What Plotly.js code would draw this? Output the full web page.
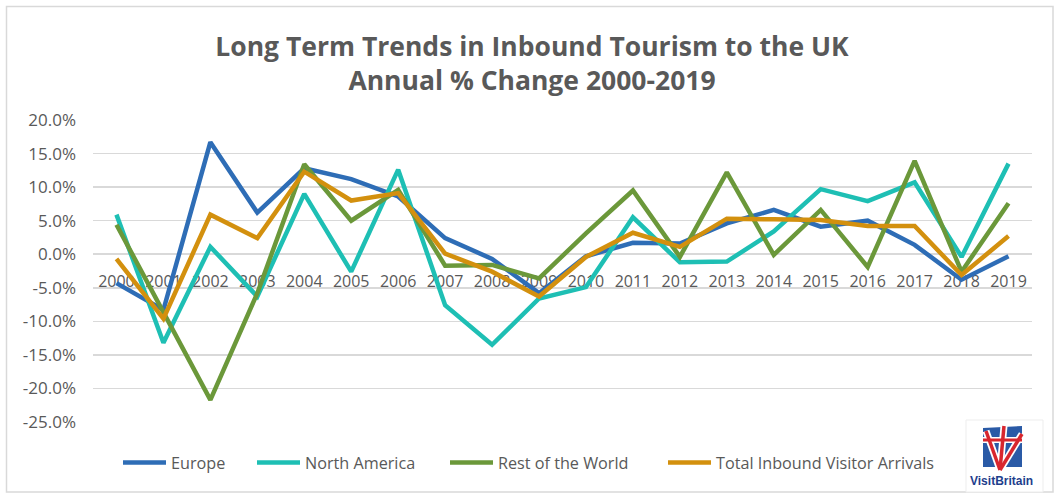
<!DOCTYPE html>
<html>
<head>
<meta charset="utf-8">
<script src="https://cdn.plot.ly/plotly-3.0.1.min.js"></script>
<style>
  html, body { margin: 0; padding: 0; background: #ffffff; }
  #chart { width: 1064px; height: 498px; }
</style>
</head>
<body>
<div id="chart"></div>
<script>
// ---- Data (annual % change) ----
const years = [2000, 2001, 2002, 2003, 2004, 2005, 2006, 2007, 2008, 2009,
               2010, 2011, 2012, 2013, 2014, 2015, 2016, 2017, 2018, 2019];
const europe = [-4.3, -8.3, 16.7, 6.2, 12.8, 11.2, 8.6, 2.4, -0.7, -5.8,
                -0.3, 1.7, 1.6, 4.6, 6.6, 4.1, 5.0, 1.4, -3.8, -0.3];
const northAmerica = [5.9, -13.2, 1.1, -6.3, 9.0, -2.6, 12.6, -7.6, -13.5, -6.6,
                      -4.9, 5.5, -1.2, -1.1, 3.4, 9.7, 7.9, 10.7, -0.4, 13.5];
const restOfWorld = [4.4, -8.8, -21.7, -5.8, 13.4, 5.0, 9.6, -1.7, -1.6, -3.6,
                     3.1, 9.5, -0.4, 12.2, -0.1, 6.6, -1.9, 13.9, -2.6, 7.6];
const totalArrivals = [-0.7, -9.6, 5.9, 2.4, 12.3, 8.0, 9.1, 0.1, -2.6, -6.3,
                       -0.4, 3.2, 1.1, 5.3, 5.2, 5.1, 4.2, 4.2, -3.1, 2.7];
const seriesNames = ['Europe', 'North America', 'Rest of the World', 'Total Inbound Visitor Arrivals'];
const yTickVals = [-25, -20, -15, -10, -5, 0, 5, 10, 15, 20];
const yTickText = ['-25.0%', '-20.0%', '-15.0%', '-10.0%', '-5.0%', '0.0%', '5.0%', '10.0%', '15.0%', '20.0%'];
const titleLines = ['Long Term Trends in Inbound Tourism to the UK', 'Annual % Change 2000-2019'];
const logoText = 'VisitBritain';

// ---- Styling ----
const colors = ['#2E6DB6', '#1EBFB4', '#6B983A', '#D3900E'];
const W = 1064, H = 498;
const M = { l: 93, r: 32, t: 120, b: 76 };
const PW = W - M.l - M.r, PH = H - M.t - M.b;
const px = x => (x - M.l) / PW;
const py = y => (H - M.b - y) / PH;
const grey = '#595959';
const font = 'Open Sans, Noto Sans, sans-serif';

const legendX = [118, 252, 445, 663];
const seriesData = [europe, northAmerica, restOfWorld, totalArrivals];
const traces = seriesData.map((vals, i) => ({
  type: 'scatter', mode: 'lines',
  x: years, y: vals, name: seriesNames[i],
  line: { color: colors[i], width: 4.5 },
  legend: i === 0 ? 'legend' : 'legend' + (i + 1),
  hoverinfo: 'x+y+name'
}));

const legendBase = (i) => ({
  x: legendX[i] / W, xref: 'container', xanchor: 'left',
  y: 1 - 463 / H, yref: 'container', yanchor: 'middle',
  orientation: 'h', bgcolor: 'rgba(0,0,0,0)',
  font: { family: font, size: 16.2, color: grey },
  itemwidth: 43, borderwidth: 0
});

const layout = {
  width: W, height: H,
  margin: M,
  paper_bgcolor: '#ffffff', plot_bgcolor: '#ffffff',
  showlegend: true,
  title: {
    text: titleLines.join('<br>'),
    font: { family: font, size: 26.5, color: grey, weight: 700 },
    x: 0.5, xref: 'container', xanchor: 'center',
    y: 1 - 56 / H, yref: 'container', yanchor: 'middle'
  },
  xaxis: {
    range: [1999.5, 2019.5],
    tickvals: years, ticktext: years.map(String),
    showgrid: false, zeroline: false, showline: false, ticks: '',
    anchor: 'free', position: 25 / 45,
    ticklabelstandoff: 16,
    tickfont: { family: font, size: 16, color: grey },
    layer: 'below traces', fixedrange: true
  },
  yaxis: {
    range: [-25, 20],
    tickvals: yTickVals, ticktext: yTickText,
    showgrid: true, gridcolor: '#D9D9D9', gridwidth: 1.5,
    zeroline: false, showline: false, ticks: '',
    ticklabelstandoff: 16,
    tickfont: { family: font, size: 17, color: grey },
    layer: 'below traces', fixedrange: true
  },
  legend: legendBase(0),
  legend2: legendBase(1),
  legend3: legendBase(2),
  legend4: legendBase(3),
  shapes: [
    // outer chart border
    { type: 'rect', xref: 'paper', yref: 'paper', x0: px(6.5), x1: px(1053), y0: py(6.5), y1: py(492),
      line: { color: '#D9D9D9', width: 1.5 }, fillcolor: 'rgba(0,0,0,0)', layer: 'below' },
    // logo box
    { type: 'rect', xref: 'paper', yref: 'paper', x0: px(966), x1: px(1043), y0: py(420), y1: py(492),
      line: { color: '#EDEDED', width: 1 }, fillcolor: '#ffffff' },
    // flag blue field
    { type: 'path', xref: 'paper', yref: 'paper',
      path: `M ${px(983)} ${py(428)} L ${px(1022)} ${py(426)} L ${px(1022)} ${py(467)} L ${px(983)} ${py(467)} Z`,
      fillcolor: '#2A5AA6', line: { width: 0 } },
    // white outlines of the cross
    { type: 'line', xref: 'paper', yref: 'paper', x0: px(1000), y0: py(470), x1: px(986), y1: py(431), line: { color: '#ffffff', width: 7 } },
    { type: 'line', xref: 'paper', yref: 'paper', x0: px(1000), y0: py(470), x1: px(1004), y1: py(426), line: { color: '#ffffff', width: 7 } },
    { type: 'line', xref: 'paper', yref: 'paper', x0: px(1000), y0: py(470), x1: px(1022), y1: py(434), line: { color: '#ffffff', width: 7 } },
    { type: 'line', xref: 'paper', yref: 'paper', x0: px(983), x1: px(1022), y0: py(440), y1: py(440), line: { color: '#ffffff', width: 6 } },
    // red cross
    { type: 'line', xref: 'paper', yref: 'paper', x0: px(1000), y0: py(470), x1: px(986), y1: py(431), line: { color: '#D8262E', width: 3.5 } },
    { type: 'line', xref: 'paper', yref: 'paper', x0: px(1000), y0: py(470), x1: px(1004), y1: py(426), line: { color: '#D8262E', width: 3.5 } },
    { type: 'line', xref: 'paper', yref: 'paper', x0: px(1000), y0: py(470), x1: px(1022), y1: py(434), line: { color: '#D8262E', width: 3.5 } },
    { type: 'line', xref: 'paper', yref: 'paper', x0: px(983), x1: px(1022), y0: py(440), y1: py(440), line: { color: '#D8262E', width: 3 } }
  ],
  annotations: [
    { text: logoText, xref: 'paper', yref: 'paper', x: px(1001), y: py(481),
      xanchor: 'center', yanchor: 'middle', showarrow: false,
      font: { family: 'Liberation Sans, Arial, sans-serif', size: 12, color: '#1E3E8C', weight: 700 } }
  ]
};

Plotly.newPlot('chart', traces, layout, { displayModeBar: false, staticPlot: true });
</script>
</body>
</html>
